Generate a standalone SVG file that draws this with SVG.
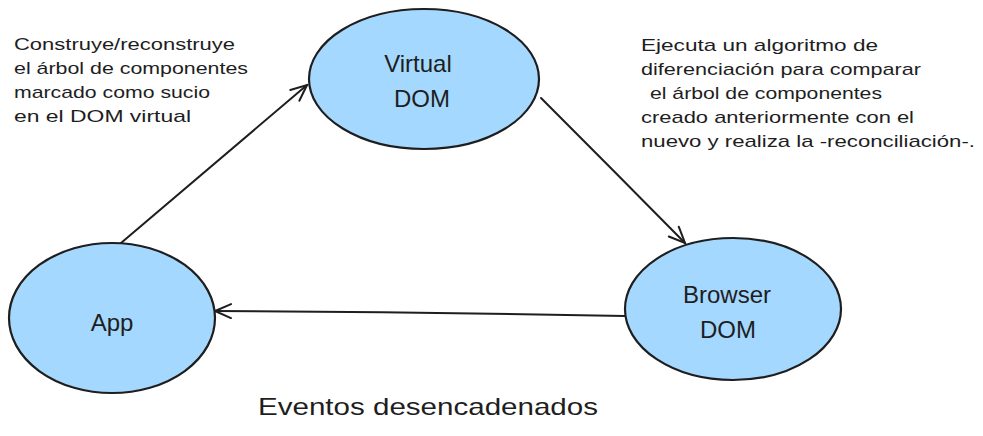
<svg xmlns="http://www.w3.org/2000/svg" width="983" height="436" viewBox="0 0 983 436">
<style>
.node{fill:#a5d8ff;stroke:#1e1e1e;stroke-width:2.2}
.lbl{font-family:"Liberation Sans",Arial,sans-serif;font-size:24px;fill:#1e1e1e;text-anchor:middle}
.note{font-family:"Liberation Sans",Arial,sans-serif;font-size:17px;fill:#1e1e1e}
.edge{fill:none;stroke:#1e1e1e;stroke-width:2;stroke-linecap:round}
</style>
<defs>
<marker id="arr" viewBox="0 0 20 20" refX="18" refY="10" markerWidth="20" markerHeight="20" markerUnits="userSpaceOnUse" orient="auto">
<path d="M2,3 L18,10 L2,17" fill="none" stroke="#1e1e1e" stroke-width="2" stroke-linecap="round"/>
</marker>
</defs>
<rect width="983" height="436" fill="#ffffff"/>
<g id="connectors">
<path class="edge" d="M121,243 Q214,164 307,85" marker-end="url(#arr)"/>
<path class="edge" d="M541,98 Q613,170 685,243" marker-end="url(#arr)"/>
<path class="edge" d="M625,316 Q420,312 215,311" marker-end="url(#arr)"/>
</g>
<g id="node-virtual-dom">
<ellipse class="node" cx="424" cy="79" rx="115" ry="70"/>
<text class="lbl" x="418" y="72">Virtual</text>
<text class="lbl" x="422" y="107">DOM</text>
</g>
<g id="node-app">
<ellipse class="node" cx="112" cy="318" rx="103" ry="75"/>
<text class="lbl" x="112" y="331">App</text>
</g>
<g id="node-browser-dom">
<ellipse class="node" cx="733" cy="309" rx="108" ry="71"/>
<text class="lbl" x="727" y="303">Browser</text>
<text class="lbl" x="728" y="338">DOM</text>
</g>
<g id="note-left">
<text class="note" x="14" y="50" textLength="221" lengthAdjust="spacingAndGlyphs">Construye/reconstruye</text>
<text class="note" x="14" y="74" textLength="234" lengthAdjust="spacingAndGlyphs">el árbol de componentes</text>
<text class="note" x="14" y="98" textLength="196" lengthAdjust="spacingAndGlyphs">marcado como sucio</text>
<text class="note" x="14" y="122" textLength="177" lengthAdjust="spacingAndGlyphs">en el DOM virtual</text>
</g>
<g id="note-right">
<text class="note" x="641" y="51" textLength="237" lengthAdjust="spacingAndGlyphs">Ejecuta un algoritmo de</text>
<text class="note" x="641" y="75" textLength="280" lengthAdjust="spacingAndGlyphs">diferenciación para comparar</text>
<text class="note" x="650" y="99" textLength="232" lengthAdjust="spacingAndGlyphs">el árbol de componentes</text>
<text class="note" x="641" y="123" textLength="273" lengthAdjust="spacingAndGlyphs">creado anteriormente con el</text>
<text class="note" x="641" y="147" textLength="334" lengthAdjust="spacingAndGlyphs">nuevo y realiza la -reconciliación-.</text>
</g>
<g id="label-eventos">
<text class="note" x="258" y="415" style="font-size:24px" textLength="340" lengthAdjust="spacingAndGlyphs">Eventos desencadenados</text>
</g>
</svg>
